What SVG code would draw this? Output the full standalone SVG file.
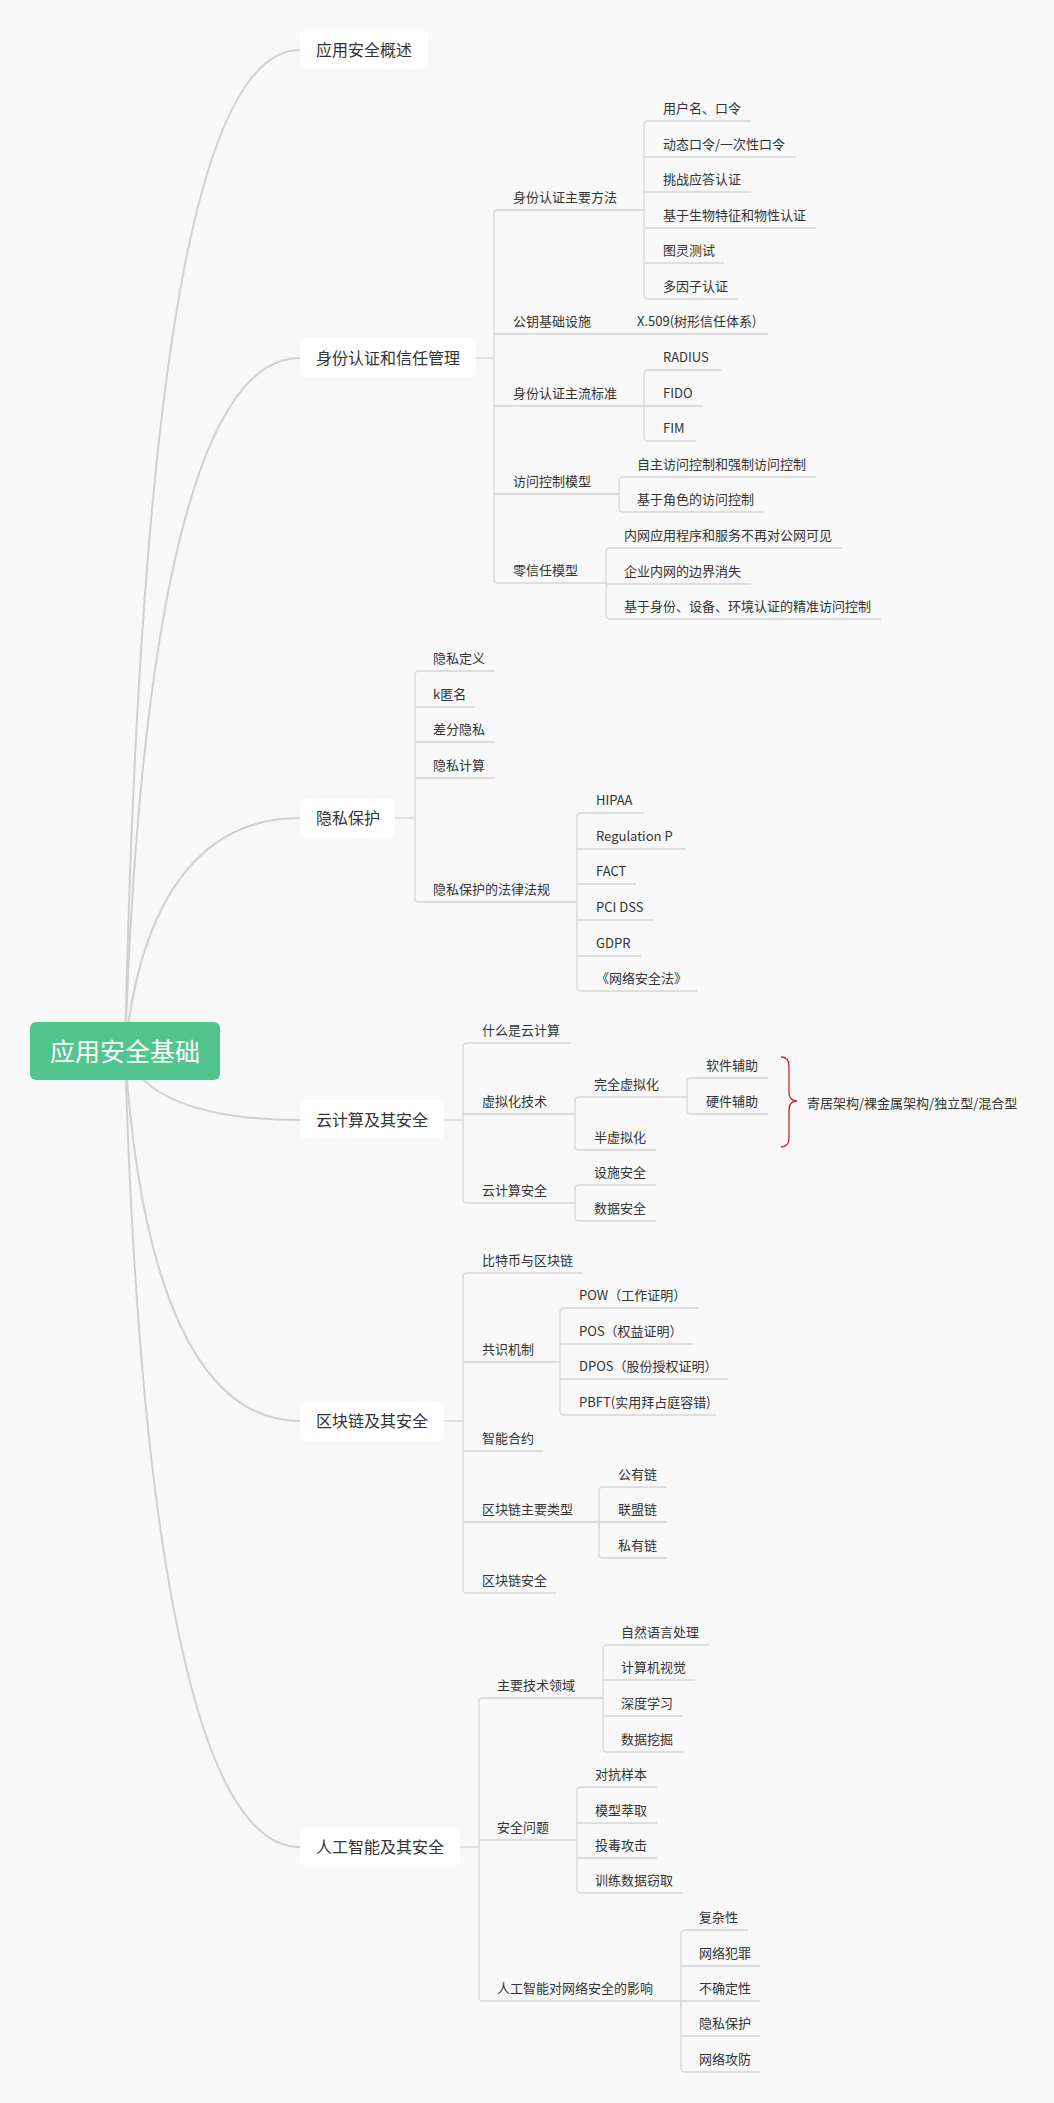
<svg xmlns="http://www.w3.org/2000/svg" width="1054" height="2103" viewBox="0 0 1054 2103">
<style>
text{font-family:"Noto Sans CJK SC","Microsoft YaHei",sans-serif;fill:#333}
.t1{font-size:16px}
.t2{font-size:13px}
.root{font-size:25px;fill:#fff}
.box{fill:#fff}
.curve{fill:none;stroke:#d0d0d0;stroke-width:2}
.ln{fill:none;stroke:#d6d6d6;stroke-width:1.3}
.brace{fill:none;stroke:#c62828;stroke-width:1.3}
</style>
<rect width="1054" height="2103" fill="#f8f8f8"/>
<g id="connectors">
<path class="curve" d="M125 1051 C140 350 200 50 300 50"/>
<path class="curve" d="M125 1051 C140 601 200 358 300 358"/>
<path class="curve" d="M125 1051 C140 900 200 818 300 818"/>
<path class="curve" d="M125 1051 C140 1096 200 1120 300 1120"/>
<path class="curve" d="M125 1051 C140 1291 200 1421 300 1421"/>
<path class="curve" d="M125 1051 C140 1568 200 1847 300 1847"/>
<path class="ln" d="M476 358H494M498 210Q494 210 494 214V579Q494 583 498 583"/>
<path class="ln" d="M648 121Q644 121 644 125V295Q644 299 648 299"/>
<path class="ln" d="M648 370Q644 370 644 374V437Q644 441 648 441"/>
<path class="ln" d="M623 477Q619 477 619 481V508Q619 512 623 512"/>
<path class="ln" d="M610 548Q606 548 606 552V615Q606 619 610 619"/>
<path class="ln" d="M395 818H415M419 671Q415 671 415 675V898Q415 902 419 902"/>
<path class="ln" d="M581 813Q577 813 577 817V987Q577 991 581 991"/>
<path class="ln" d="M444 1120H463M467 1043Q463 1043 463 1047V1199Q463 1203 467 1203"/>
<path class="ln" d="M579 1097Q575 1097 575 1101V1146Q575 1150 579 1150"/>
<path class="ln" d="M691 1078Q687 1078 687 1082V1110Q687 1114 691 1114"/>
<path class="ln" d="M579 1185Q575 1185 575 1189V1217Q575 1221 579 1221"/>
<path class="ln" d="M444 1421H463M467 1273Q463 1273 463 1277V1589Q463 1593 467 1593"/>
<path class="ln" d="M564 1308Q560 1308 560 1312V1411Q560 1415 564 1415"/>
<path class="ln" d="M603 1487Q599 1487 599 1491V1554Q599 1558 603 1558"/>
<path class="ln" d="M460 1847H479M483 1698Q479 1698 479 1702V1997Q479 2001 483 2001"/>
<path class="ln" d="M607 1645Q603 1645 603 1649V1748Q603 1752 607 1752"/>
<path class="ln" d="M581 1787Q577 1787 577 1791V1889Q577 1893 581 1893"/>
<path class="ln" d="M685 1930Q681 1930 681 1934V2068Q681 2072 685 2072"/>
<path class="brace" d="M781 1057C787 1057 789 1060 789 1066V1092C789 1098 791 1101 797 1101C791 1101 789 1104 789 1110V1138C789 1144 787 1147 781 1147"/>
</g>
<g id="root"><rect x="30" y="1022" width="190" height="58" rx="6" fill="#52c48d"/><text class="root" x="125" y="1061" text-anchor="middle">应用安全基础</text></g>
<g id="n1"><rect class="box" x="300" y="30" width="128" height="39" rx="6"/><text class="t1" x="316" y="56">应用安全概述</text></g>
<g id="n2"><rect class="box" x="300" y="338" width="176" height="39" rx="6"/><text class="t1" x="316" y="364">身份认证和信任管理</text></g>
<g id="n2-1"><text class="t2" x="513" y="202">身份认证主要方法</text><path class="ln" d="M498 210H644"/></g>
<g id="n2-1-1"><text class="t2" x="663" y="113">用户名、口令</text><path class="ln" d="M648 121H751"/></g>
<g id="n2-1-2"><text class="t2" x="663" y="149">动态口令/一次性口令</text><path class="ln" d="M644 157H796"/></g>
<g id="n2-1-3"><text class="t2" x="663" y="184">挑战应答认证</text><path class="ln" d="M644 192H751"/></g>
<g id="n2-1-4"><text class="t2" x="663" y="220">基于生物特征和物性认证</text><path class="ln" d="M644 228H816"/></g>
<g id="n2-1-5"><text class="t2" x="663" y="255">图灵测试</text><path class="ln" d="M644 263H724"/></g>
<g id="n2-1-6"><text class="t2" x="663" y="291">多因子认证</text><path class="ln" d="M648 299H738"/></g>
<g id="n2-2"><text class="t2" x="513" y="326">公钥基础设施</text><path class="ln" d="M494 334H637"/></g>
<g id="n2-2-1"><text class="t2" x="637" y="326">X.509(树形信任体系)</text><path class="ln" d="M637 334H768"/></g>
<g id="n2-3"><text class="t2" x="513" y="398">身份认证主流标准</text><path class="ln" d="M494 406H644"/></g>
<g id="n2-3-1"><text class="t2" x="663" y="362">RADIUS</text><path class="ln" d="M648 370H722"/></g>
<g id="n2-3-2"><text class="t2" x="663" y="398">FIDO</text><path class="ln" d="M644 406H703"/></g>
<g id="n2-3-3"><text class="t2" x="663" y="433">FIM</text><path class="ln" d="M648 441H696"/></g>
<g id="n2-4"><text class="t2" x="513" y="486">访问控制模型</text><path class="ln" d="M494 494H619"/></g>
<g id="n2-4-1"><text class="t2" x="637" y="469">自主访问控制和强制访问控制</text><path class="ln" d="M623 477H816"/></g>
<g id="n2-4-2"><text class="t2" x="637" y="504">基于角色的访问控制</text><path class="ln" d="M623 512H763"/></g>
<g id="n2-5"><text class="t2" x="513" y="575">零信任模型</text><path class="ln" d="M498 583H606"/></g>
<g id="n2-5-1"><text class="t2" x="624" y="540">内网应用程序和服务不再对公网可见</text><path class="ln" d="M610 548H842"/></g>
<g id="n2-5-2"><text class="t2" x="624" y="576">企业内网的边界消失</text><path class="ln" d="M606 584H751"/></g>
<g id="n2-5-3"><text class="t2" x="624" y="611">基于身份、设备、环境认证的精准访问控制</text><path class="ln" d="M610 619H881"/></g>
<g id="n3"><rect class="box" x="300" y="799" width="95" height="39" rx="6"/><text class="t1" x="316" y="824">隐私保护</text></g>
<g id="n3-1"><text class="t2" x="433" y="663">隐私定义</text><path class="ln" d="M419 671H495"/></g>
<g id="n3-2"><text class="t2" x="433" y="699">k匿名</text><path class="ln" d="M415 707H475"/></g>
<g id="n3-3"><text class="t2" x="433" y="734">差分隐私</text><path class="ln" d="M415 742H495"/></g>
<g id="n3-4"><text class="t2" x="433" y="770">隐私计算</text><path class="ln" d="M415 778H495"/></g>
<g id="n3-5"><text class="t2" x="433" y="894">隐私保护的法律法规</text><path class="ln" d="M419 902H577"/></g>
<g id="n3-5-1"><text class="t2" x="596" y="805">HIPAA</text><path class="ln" d="M581 813H644"/></g>
<g id="n3-5-2"><text class="t2" x="596" y="841">Regulation P</text><path class="ln" d="M577 849H685"/></g>
<g id="n3-5-3"><text class="t2" x="596" y="876">FACT</text><path class="ln" d="M577 884H636"/></g>
<g id="n3-5-4"><text class="t2" x="596" y="912">PCI DSS</text><path class="ln" d="M577 920H654"/></g>
<g id="n3-5-5"><text class="t2" x="596" y="948">GDPR</text><path class="ln" d="M577 956H641"/></g>
<g id="n3-5-6"><text class="t2" x="596" y="983">《网络安全法》</text><path class="ln" d="M581 991H697"/></g>
<g id="n4"><rect class="box" x="300" y="1100" width="144" height="39" rx="6"/><text class="t1" x="316" y="1126">云计算及其安全</text></g>
<g id="n4-1"><text class="t2" x="482" y="1035">什么是云计算</text><path class="ln" d="M467 1043H571"/></g>
<g id="n4-2"><text class="t2" x="482" y="1106">虚拟化技术</text><path class="ln" d="M463 1114H575"/></g>
<g id="n4-2-1"><text class="t2" x="594" y="1089">完全虚拟化</text><path class="ln" d="M579 1097H687"/></g>
<g id="n4-2-1-1"><text class="t2" x="706" y="1070">软件辅助</text><path class="ln" d="M691 1078H768"/></g>
<g id="n4-2-1-2"><text class="t2" x="706" y="1106">硬件辅助</text><path class="ln" d="M691 1114H768"/></g>
<g id="n4-2-2"><text class="t2" x="594" y="1142">半虚拟化</text><path class="ln" d="M579 1150H656"/></g>
<g id="n4-3"><text class="t2" x="482" y="1195">云计算安全</text><path class="ln" d="M467 1203H575"/></g>
<g id="n4-3-1"><text class="t2" x="594" y="1177">设施安全</text><path class="ln" d="M579 1185H656"/></g>
<g id="n4-3-2"><text class="t2" x="594" y="1213">数据安全</text><path class="ln" d="M579 1221H656"/></g>
<g id="n4-note"><text class="t2" x="807" y="1108">寄居架构/裸金属架构/独立型/混合型</text></g>
<g id="n5"><rect class="box" x="300" y="1402" width="144" height="39" rx="6"/><text class="t1" x="316" y="1427">区块链及其安全</text></g>
<g id="n5-1"><text class="t2" x="482" y="1265">比特币与区块链</text><path class="ln" d="M467 1273H582"/></g>
<g id="n5-2"><text class="t2" x="482" y="1354">共识机制</text><path class="ln" d="M463 1362H560"/></g>
<g id="n5-2-1"><text class="t2" x="579" y="1300">POW（工作证明）</text><path class="ln" d="M564 1308H699"/></g>
<g id="n5-2-2"><text class="t2" x="579" y="1336">POS（权益证明）</text><path class="ln" d="M560 1344H693"/></g>
<g id="n5-2-3"><text class="t2" x="579" y="1371">DPOS（股份授权证明）</text><path class="ln" d="M560 1379H728"/></g>
<g id="n5-2-4"><text class="t2" x="579" y="1407">PBFT(实用拜占庭容错)</text><path class="ln" d="M564 1415H716"/></g>
<g id="n5-3"><text class="t2" x="482" y="1443">智能合约</text><path class="ln" d="M463 1451H543"/></g>
<g id="n5-4"><text class="t2" x="482" y="1514">区块链主要类型</text><path class="ln" d="M463 1522H599"/></g>
<g id="n5-4-1"><text class="t2" x="618" y="1479">公有链</text><path class="ln" d="M603 1487H667"/></g>
<g id="n5-4-2"><text class="t2" x="618" y="1514">联盟链</text><path class="ln" d="M599 1522H667"/></g>
<g id="n5-4-3"><text class="t2" x="618" y="1550">私有链</text><path class="ln" d="M603 1558H667"/></g>
<g id="n5-5"><text class="t2" x="482" y="1585">区块链安全</text><path class="ln" d="M467 1593H556"/></g>
<g id="n6"><rect class="box" x="300" y="1827" width="160" height="39" rx="6"/><text class="t1" x="316" y="1853">人工智能及其安全</text></g>
<g id="n6-1"><text class="t2" x="497" y="1690">主要技术领域</text><path class="ln" d="M483 1698H603"/></g>
<g id="n6-1-1"><text class="t2" x="621" y="1637">自然语言处理</text><path class="ln" d="M607 1645H709"/></g>
<g id="n6-1-2"><text class="t2" x="621" y="1672">计算机视觉</text><path class="ln" d="M603 1680H695"/></g>
<g id="n6-1-3"><text class="t2" x="621" y="1708">深度学习</text><path class="ln" d="M603 1716H683"/></g>
<g id="n6-1-4"><text class="t2" x="621" y="1744">数据挖掘</text><path class="ln" d="M607 1752H683"/></g>
<g id="n6-2"><text class="t2" x="497" y="1832">安全问题</text><path class="ln" d="M479 1840H577"/></g>
<g id="n6-2-1"><text class="t2" x="595" y="1779">对抗样本</text><path class="ln" d="M581 1787H657"/></g>
<g id="n6-2-2"><text class="t2" x="595" y="1815">模型萃取</text><path class="ln" d="M577 1823H657"/></g>
<g id="n6-2-3"><text class="t2" x="595" y="1850">投毒攻击</text><path class="ln" d="M577 1858H657"/></g>
<g id="n6-2-4"><text class="t2" x="595" y="1885">训练数据窃取</text><path class="ln" d="M581 1893H683"/></g>
<g id="n6-3"><text class="t2" x="497" y="1993">人工智能对网络安全的影响</text><path class="ln" d="M483 2001H681"/></g>
<g id="n6-3-1"><text class="t2" x="699" y="1922">复杂性</text><path class="ln" d="M685 1930H748"/></g>
<g id="n6-3-2"><text class="t2" x="699" y="1958">网络犯罪</text><path class="ln" d="M681 1966H760"/></g>
<g id="n6-3-3"><text class="t2" x="699" y="1993">不确定性</text><path class="ln" d="M681 2001H760"/></g>
<g id="n6-3-4"><text class="t2" x="699" y="2028">隐私保护</text><path class="ln" d="M681 2036H760"/></g>
<g id="n6-3-5"><text class="t2" x="699" y="2064">网络攻防</text><path class="ln" d="M685 2072H760"/></g>
</svg>
